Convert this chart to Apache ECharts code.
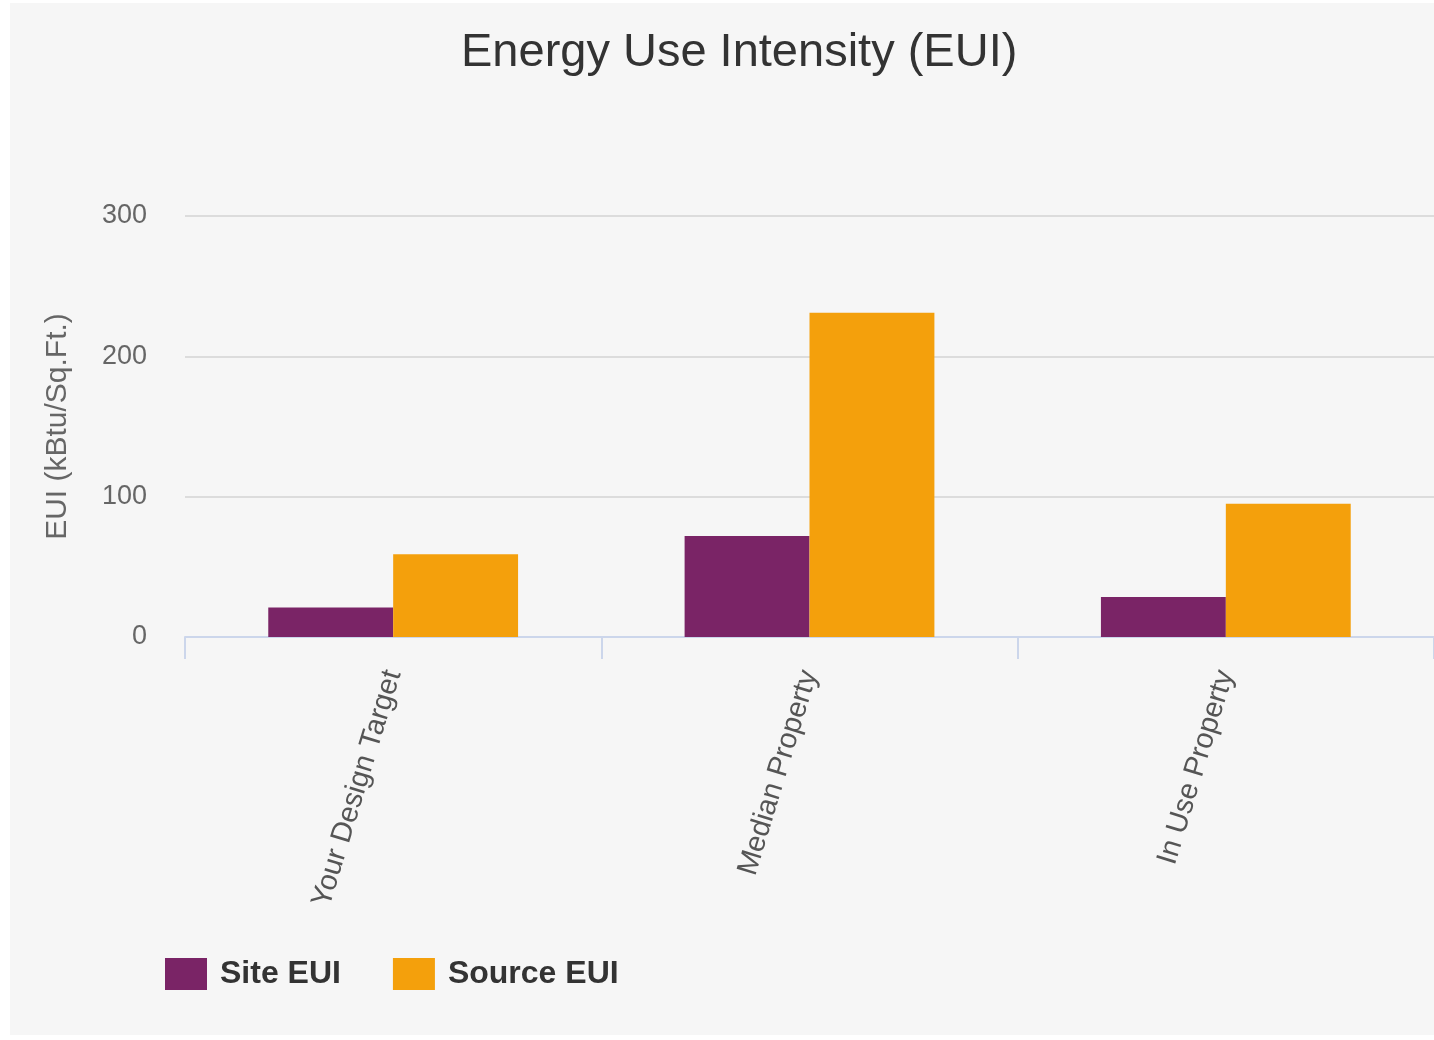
<!DOCTYPE html>
<html>
<head>
<meta charset="utf-8">
<script src="https://cdn.jsdelivr.net/npm/echarts@6/dist/echarts.min.js"></script>
<style>
html,body{margin:0;padding:0;background:#ffffff;}
#chart{width:1434px;height:1040px;}
</style>
</head>
<body>
<div id="chart"></div>
<script>
const categories = ['Your Design Target', 'Median Property', 'In Use Property'];
const siteEUI = [21, 72, 28.5];
const sourceEUI = [59, 231, 95];
const seriesNames = ['Site EUI', 'Source EUI'];

const chart = echarts.init(document.getElementById('chart'));
chart.setOption({
  backgroundColor: '#ffffff',
  animation: false,
  graphic: [{
    type: 'rect', z: -100, silent: true,
    shape: { x: 10, y: 3, width: 1424, height: 1032 },
    style: { fill: '#f6f6f6' }
  }],
  title: {
    text: 'Energy Use Intensity (EUI)',
    left: 456,
    top: 25,
    textStyle: { fontFamily: 'Liberation Sans', fontSize: 47, fontWeight: 'normal', color: '#333333' }
  },
  legend: {
    data: seriesNames,
    left: 160,
    top: 953,
    itemWidth: 42,
    itemHeight: 32,
    itemGap: 52,
    icon: 'rect',
    textStyle: { fontFamily: 'Liberation Sans', fontSize: 32, fontWeight: 'bold', color: '#333333', padding: [0, 0, 0, 8] }
  },
  grid: { left: 185, right: 0, top: 216, bottom: 403, containLabel: false },
  xAxis: {
    type: 'category',
    data: categories,
    axisLine: { show: true, lineStyle: { color: '#ccd6eb', width: 2 } },
    axisTick: { show: true, length: 22, lineStyle: { color: '#ccd6eb', width: 2 } },
    axisLabel: { rotate: 73, margin: 34, fontFamily: 'Liberation Sans', fontSize: 29, color: '#555555', interval: 0 }
  },
  yAxis: {
    type: 'value',
    min: 0, max: 300, interval: 100,
    name: 'EUI (kBtu/Sq.Ft.)',
    nameLocation: 'middle',
    nameRotate: 90,
    nameGap: 112,
    nameTextStyle: { fontFamily: 'Liberation Sans', fontSize: 30, color: '#666666' },
    axisLine: { show: false },
    axisTick: { show: false },
    axisLabel: { margin: 38, fontFamily: 'Liberation Sans', fontSize: 27, color: '#666666', verticalAlign: 'middle', padding: [10, 0, 0, 0] },
    splitLine: { lineStyle: { color: '#dcdcdc', width: 2 } }
  },
  series: [
    { name: seriesNames[0], type: 'bar', data: siteEUI, barGap: '0%', barCategoryGap: '40%', itemStyle: { color: '#7a2466' } },
    { name: seriesNames[1], type: 'bar', data: sourceEUI, barGap: '0%', barCategoryGap: '40%', itemStyle: { color: '#f4a00c' } }
  ]
});
</script>
</body>
</html>
